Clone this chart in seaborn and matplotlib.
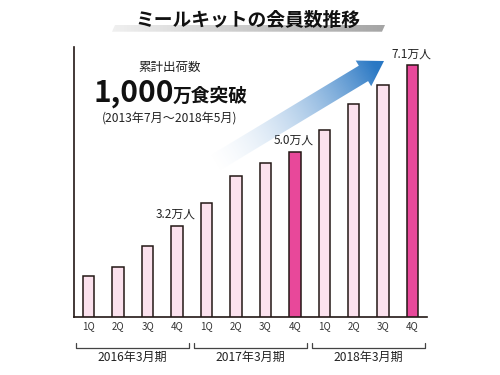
import numpy as np
import pandas as pd
import matplotlib
matplotlib.use('Agg')
import matplotlib.pyplot as plt
import matplotlib.transforms as mtransforms
from matplotlib.patches import Polygon
import seaborn as sns

# data (万人)
quarters = ['1Q', '2Q', '3Q', '4Q'] * 3
members = [1.98, 2.21, 2.72, 3.2, 3.76, 4.41, 4.72, 5.0, 5.52, 6.16, 6.63, 7.1]
periods = ['2016年3月期', '2017年3月期', '2018年3月期']
labeled = [3, 7, 11]
year_end = [7, 11]

title = 'ミールキットの会員数推移'
note_top = '累計出荷数'
note_big = '1,000'
note_big2 = '万食突破'
note_span = '(2013年7月～2018年5月)'

light = '#fbe1ed'
dark = '#e8489a'
ink = '#231815'

sns.set_style('white')
plt.rcParams['font.family'] = ['Noto Sans CJK JP', 'DejaVu Sans']

df = pd.DataFrame({'idx': range(len(members)), 'members': members})
df['kind'] = ['end' if i in year_end else 'normal' for i in df.idx]

fig = plt.figure(figsize=(5, 3.75), dpi=100)
ax = fig.add_axes([0.148, 0.1555, 0.7066, 0.7192])

sns.barplot(data=df, x='idx', y='members', hue='kind', palette={'normal': light, 'end': dark},
            saturation=1, dodge=False, width=0.39, edgecolor=ink, linewidth=1.1, legend=False, ax=ax)

ax.set_xlim(-0.5, len(members) - 0.5)
ax.set_ylim(0.99, 7.55)
ax.set_xlabel('')
ax.set_ylabel('')
ax.set_yticks([])
sns.despine(ax=ax)
for s in ['left', 'bottom']:
    ax.spines[s].set_color(ink)
    ax.spines[s].set_linewidth(1.2)

ax.set_xticks(range(len(quarters)))
ax.set_xticklabels(quarters, fontsize=7, color='#333333')
ax.tick_params(axis='x', which='major', length=0, pad=3.5)
ax.set_xticks(np.arange(0.5, len(quarters) - 1, 1), minor=True)
ax.tick_params(axis='x', which='minor', direction='in', length=4.3, width=1.2, color=ink)

# value labels
for i in labeled:
    ax.annotate(f'{members[i]:.1f}万人', (i, members[i]), xytext=(-1, 8.5), textcoords='offset points',
                ha='center', va='center', fontsize=8.5, color='#222222')

# fiscal-year brackets
trans = mtransforms.blended_transform_factory(ax.transData, ax.transAxes)
for g, name in enumerate(periods):
    x0 = g * 4 - 0.42
    x1 = g * 4 + 3 + 0.41
    ax.plot([x0, x0, x1, x1], [-0.096, -0.115, -0.115, -0.096], transform=trans,
            color='#444444', lw=0.9, clip_on=False)
    ax.text((x0 + x1) / 2, -0.152, name, transform=trans, ha='center', va='center',
            fontsize=8.7, color='#222222')

# overlay in pixel coords for title bar, notes and arrow
ov = fig.add_axes([0, 0, 1, 1], zorder=5)
ov.set_xlim(0, 500)
ov.set_ylim(375, 0)
ov.axis('off')


def gradient_poly(pts, c0, c1, a0, a1, start, end):
    pts = np.array(pts)
    x0, y0 = pts.min(axis=0)
    x1, y1 = pts.max(axis=0)
    xs = np.linspace(x0, x1, 200)
    ys = np.linspace(y0, y1, 200)
    X, Y = np.meshgrid(xs, ys)
    d = np.array(end) - np.array(start)
    t = ((X - start[0]) * d[0] + (Y - start[1]) * d[1]) / (d ** 2).sum()
    t = np.clip(t, 0, 1)[..., None]
    c0 = np.array(matplotlib.colors.to_rgb(c0))
    c1 = np.array(matplotlib.colors.to_rgb(c1))
    img = np.zeros((200, 200, 4))
    img[..., :3] = c0 * (1 - t) + c1 * t
    img[..., 3] = (a0 * (1 - t) + a1 * t)[..., 0]
    poly = Polygon(pts, closed=True, facecolor='none', edgecolor='none', transform=ov.transData)
    ov.add_patch(poly)
    im = ov.imshow(img, extent=(x0, x1, y1, y0), origin='upper', aspect='auto', interpolation='bilinear')
    im.set_clip_path(poly)


# title underline
gradient_poly([(115, 25), (385, 25), (382, 31.7), (112, 31.7)], '#f0f0f0', '#a5a5a5', 1, 1, (112, 28), (385, 28))
ov.text(248, 20, title, ha='center', va='center', fontsize=13.5, fontweight='bold', color='#111111')

# arrow
tail = np.array([215.0, 163.0])
tip = np.array([384.0, 61.0])
u = (tip - tail) / np.linalg.norm(tip - tail)
n = np.array([-u[1], u[0]])
hb = tip - 24 * u
arrow = [tail + 9 * n, hb + 9 * n, hb + 15 * n, tip, hb - 15 * n, hb - 9 * n, tail - 9 * n]
gradient_poly(arrow, '#d3e3f4', '#2a78c4', 0.0, 1.0, tail, tip - 10 * u)

ov.text(170, 67, note_top, ha='center', va='center', fontsize=9, color='#222222')
ov.text(94, 102, note_big, ha='left', va='baseline', fontsize=21.5, fontweight='bold', color='#111111')
ov.text(173, 102, note_big2, ha='left', va='baseline', fontsize=13.5, fontweight='bold', color='#111111')
ov.text(170, 118, note_span, ha='center', va='center', fontsize=8.7, color='#222222')
ov.set_xlim(0, 500)
ov.set_ylim(375, 0)

fig.savefig('out.png', dpi=100, facecolor='white')
